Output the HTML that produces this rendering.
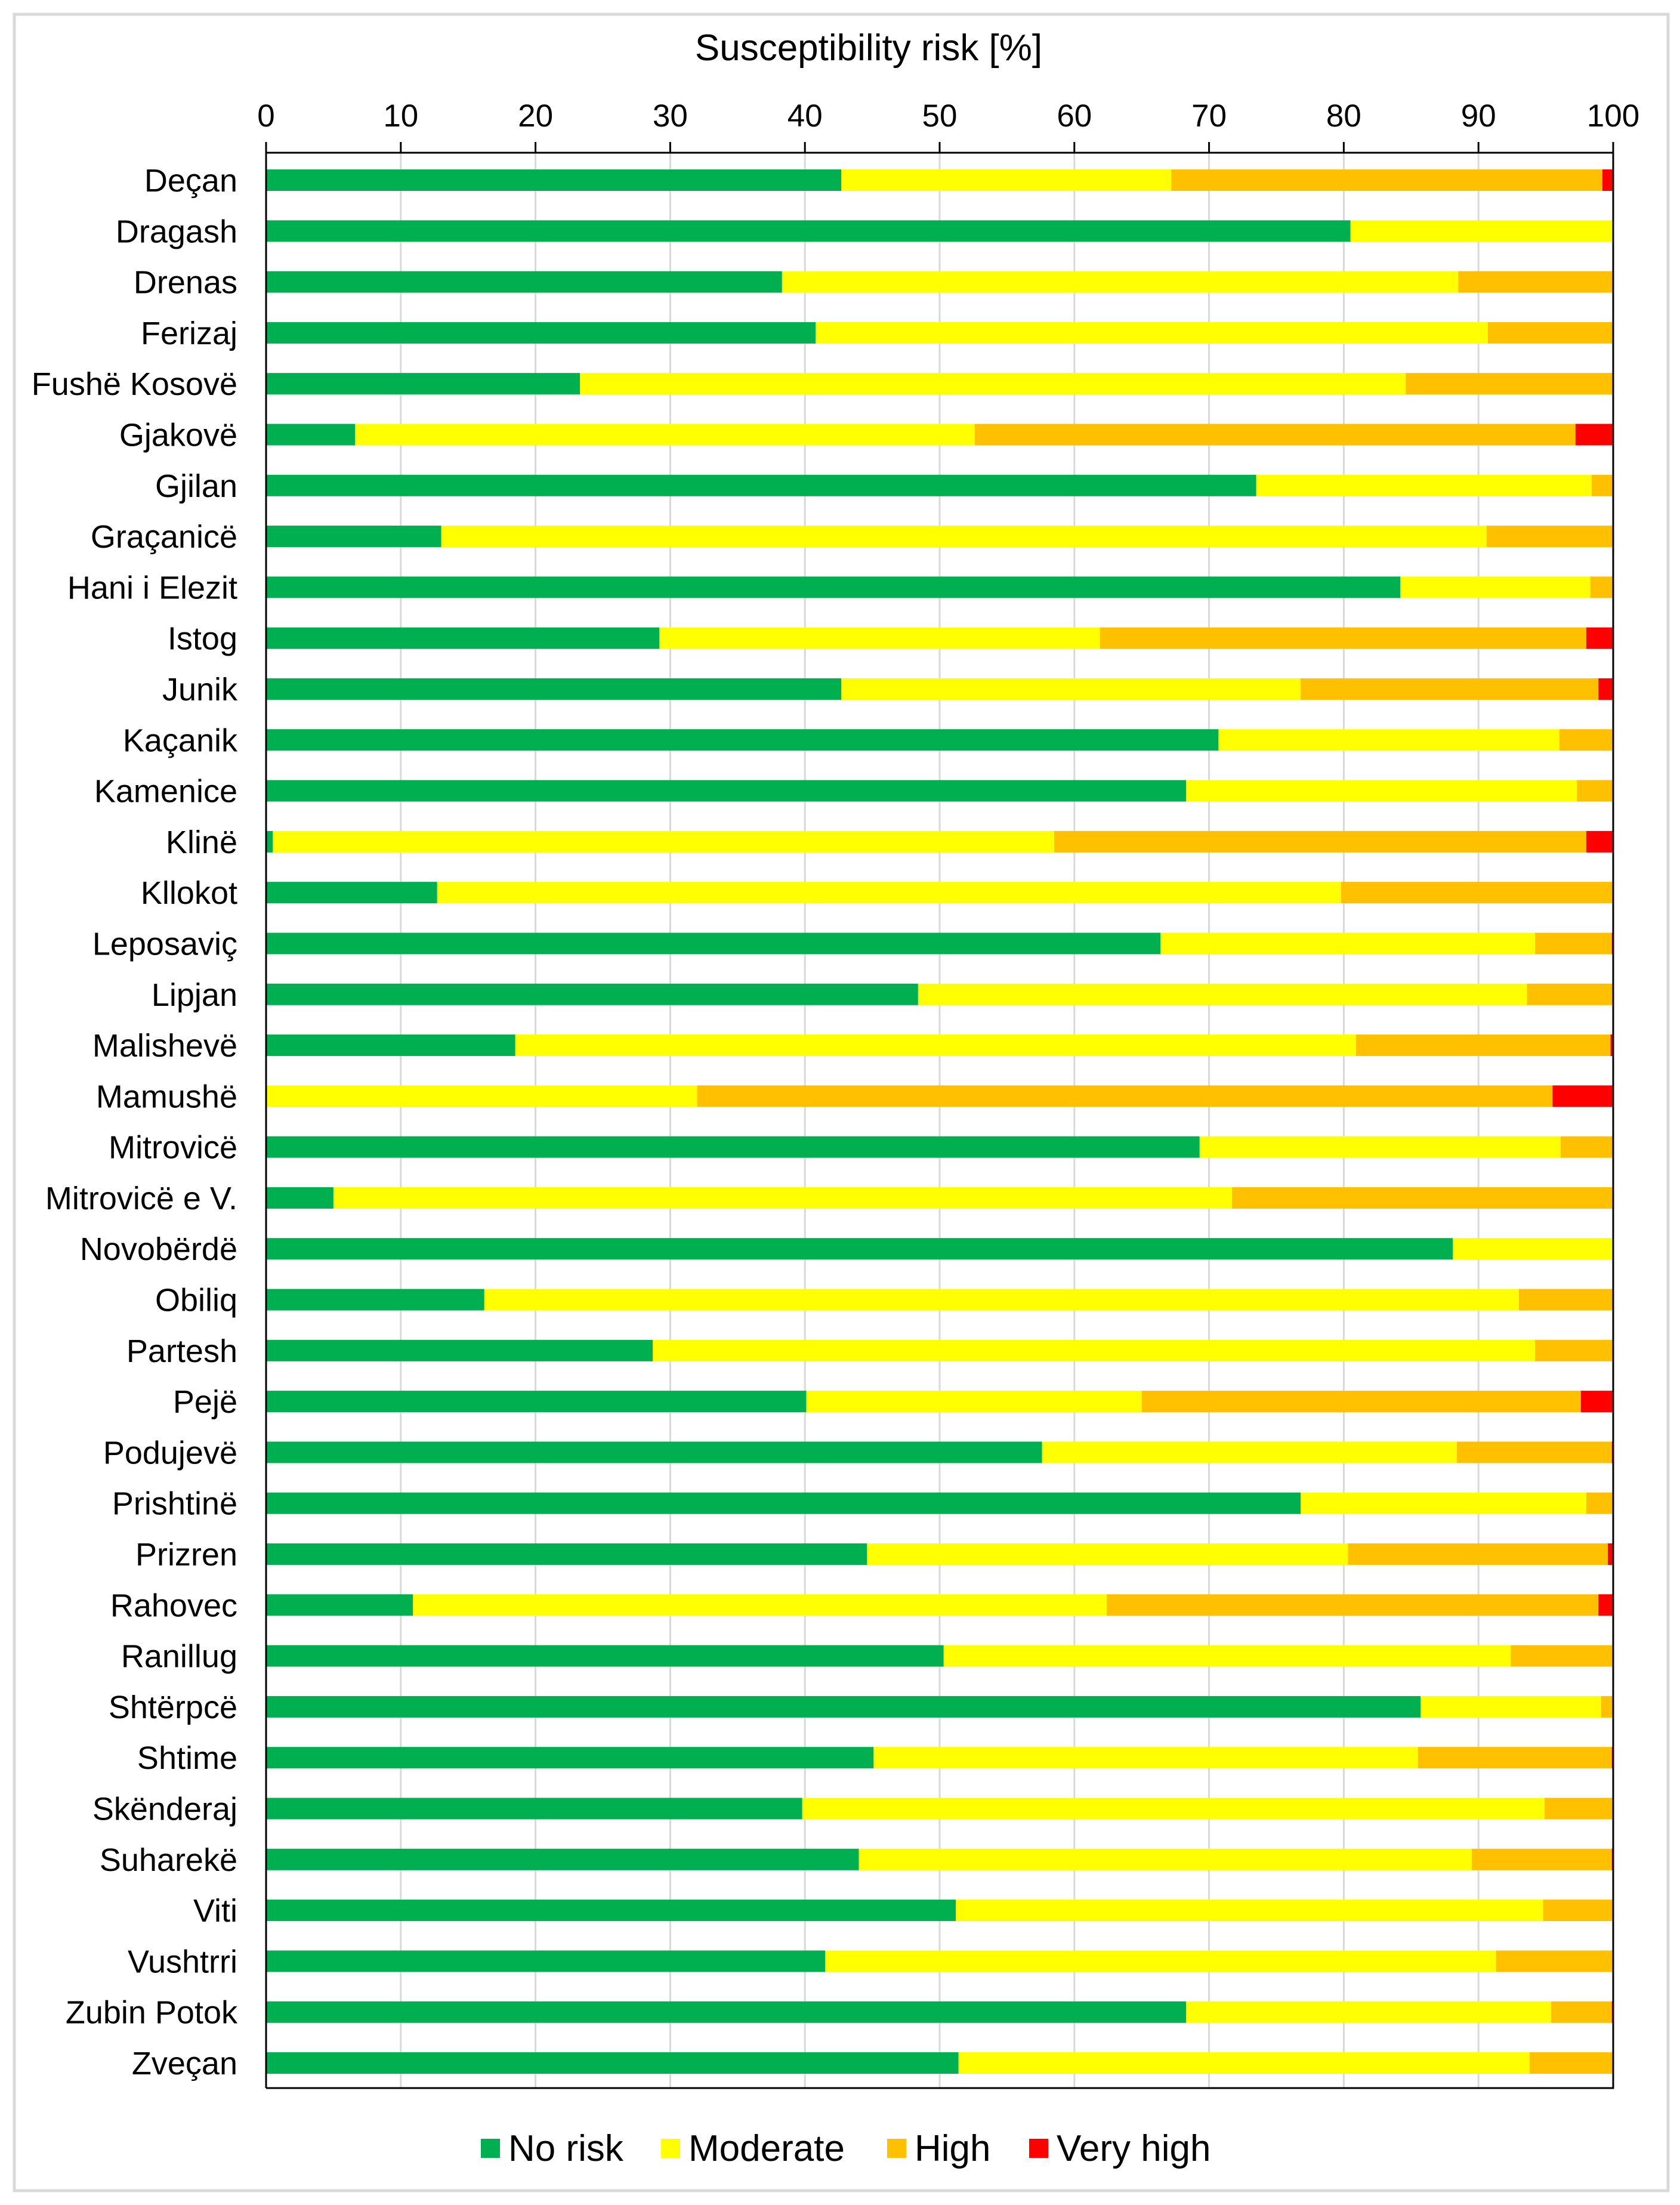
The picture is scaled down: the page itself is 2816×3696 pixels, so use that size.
<!DOCTYPE html>
<html><head><meta charset="utf-8"><style>
html,body{margin:0;padding:0;background:#fff;}
svg{display:block;font-family:"Liberation Sans",Arial,sans-serif;}
</style></head><body>
<svg id="chart" width="2816" height="3696" viewBox="0 0 2816 3696" xmlns="http://www.w3.org/2000/svg">
<rect x="24" y="24" width="2772" height="3648" fill="#fff" stroke="#d9d9d9" stroke-width="5"/>
<text x="1456" y="101" font-size="62" text-anchor="middle" fill="#000">Susceptibility risk [%]</text>
<g id="grid"></g><g id="bars"></g><g id="axes"></g><g id="legend"></g>
</svg>
<script>
const categories=["Deçan","Dragash","Drenas","Ferizaj","Fushë Kosovë","Gjakovë","Gjilan","Graçanicë","Hani i Elezit","Istog","Junik","Kaçanik","Kamenice","Klinë","Kllokot","Leposaviç","Lipjan","Malishevë","Mamushë","Mitrovicë","Mitrovicë e V.","Novobërdë","Obiliq","Partesh","Pejë","Podujevë","Prishtinë","Prizren","Rahovec","Ranillug","Shtërpcë","Shtime","Skënderaj","Suharekë","Viti","Vushtrri","Zubin Potok","Zveçan"];
const noRisk=[42.7,80.5,38.3,40.8,23.3,6.6,73.5,13.0,84.2,29.2,42.7,70.7,68.3,0.5,12.7,66.4,48.4,18.5,0,69.3,5.0,88.1,16.2,28.7,40.1,57.6,76.8,44.6,10.9,50.3,85.7,45.1,39.8,44.0,51.2,41.5,68.3,51.4];
const moderate=[24.5,19.5,50.2,49.9,61.3,46.0,24.9,77.6,14.1,32.7,34.1,25.3,29.0,58.0,67.1,27.8,45.2,62.4,32.0,26.8,66.7,11.9,76.8,65.5,24.9,30.8,21.2,35.7,51.5,42.1,13.4,40.4,55.1,45.5,43.6,49.8,27.1,42.4];
const high=[32.0,0,11.5,9.3,15.4,44.6,1.6,9.4,1.7,36.1,22.1,4.0,2.7,39.5,20.2,5.7,6.4,18.9,63.5,3.9,28.3,0,7.0,5.8,32.6,11.5,2.0,19.3,36.5,7.6,0.9,14.4,5.1,10.4,5.2,8.7,4.5,6.2];
const veryHigh=[0.8,0,0,0,0,2.8,0,0,0,2.0,1.1,0,0,2.0,0,0.1,0,0.2,4.5,0,0,0,0,0,2.4,0.1,0,0.4,1.1,0,0,0.1,0,0.1,0,0,0.1,0];
const ticks=[0,10,20,30,40,50,60,70,80,90,100];
const seriesNames=["No risk","Moderate","High","Very high"];
const colors=["#00b050","#ffff00","#ffc000","#ff0000"];
const NS="http://www.w3.org/2000/svg";
const X0=446,X1=2704,YTOP=256,YBOT=3500,Y0=302,STEP=(3458-302)/37,BH=36;
const xs=v=>X0+(X1-X0)*v/100;
const yc=i=>Y0+STEP*i;
function mk(tag,attrs,parent){const e=document.createElementNS(NS,tag);for(const k in attrs)e.setAttribute(k,attrs[k]);parent.appendChild(e);return e;}
const grid=document.getElementById('grid'),bars=document.getElementById('bars'),axes=document.getElementById('axes'),legend=document.getElementById('legend');
ticks.forEach(t=>{
  if(t>0&&t<100){const g=mk('line',{x1:xs(t),x2:xs(t),y1:YTOP,y2:YBOT,stroke:'#d9d9d9','stroke-width':3},grid);
  
  }
  const tk=mk('line',{x1:xs(t),x2:xs(t),y1:YTOP-18,y2:YTOP,stroke:'#000','stroke-width':3},axes);
  
  
  const tl=mk('text',{x:xs(t),y:212,'font-size':53,'text-anchor':'middle',fill:'#000'},axes);
  tl.textContent=t;
  
  
});
const series=[noRisk,moderate,high,veryHigh];
categories.forEach((c,i)=>{
  let acc=0;
  series.forEach((s,k)=>{
    const v=s[i];
    if(v>0){const r=mk('rect',{x:xs(acc),y:yc(i)-BH/2,width:xs(acc+v)-xs(acc),height:BH,fill:colors[k]},bars);
    
    }
    acc+=v;
  });
  const l=mk('text',{x:398,y:yc(i)+19,'font-size':54,'text-anchor':'end',fill:'#000'},axes);
  l.textContent=c;
  
  
});
const ax=mk('path',{d:`M${X0} ${YBOT} L${X0} ${YTOP} L${X1} ${YTOP} L${X1} ${YBOT} L${X0} ${YBOT}`,fill:'none',stroke:'#000','stroke-width':3},axes);


const lx=[806,1108,1487,1725];
seriesNames.forEach((n,k)=>{
  const s=mk('rect',{x:lx[k],y:3585,width:32,height:32,fill:colors[k]},legend);
  
  
  const t=mk('text',{x:lx[k]+46,y:3622,'font-size':62,fill:'#000'},legend);
  t.textContent=n;
  
  
});
</script>
</body></html>
